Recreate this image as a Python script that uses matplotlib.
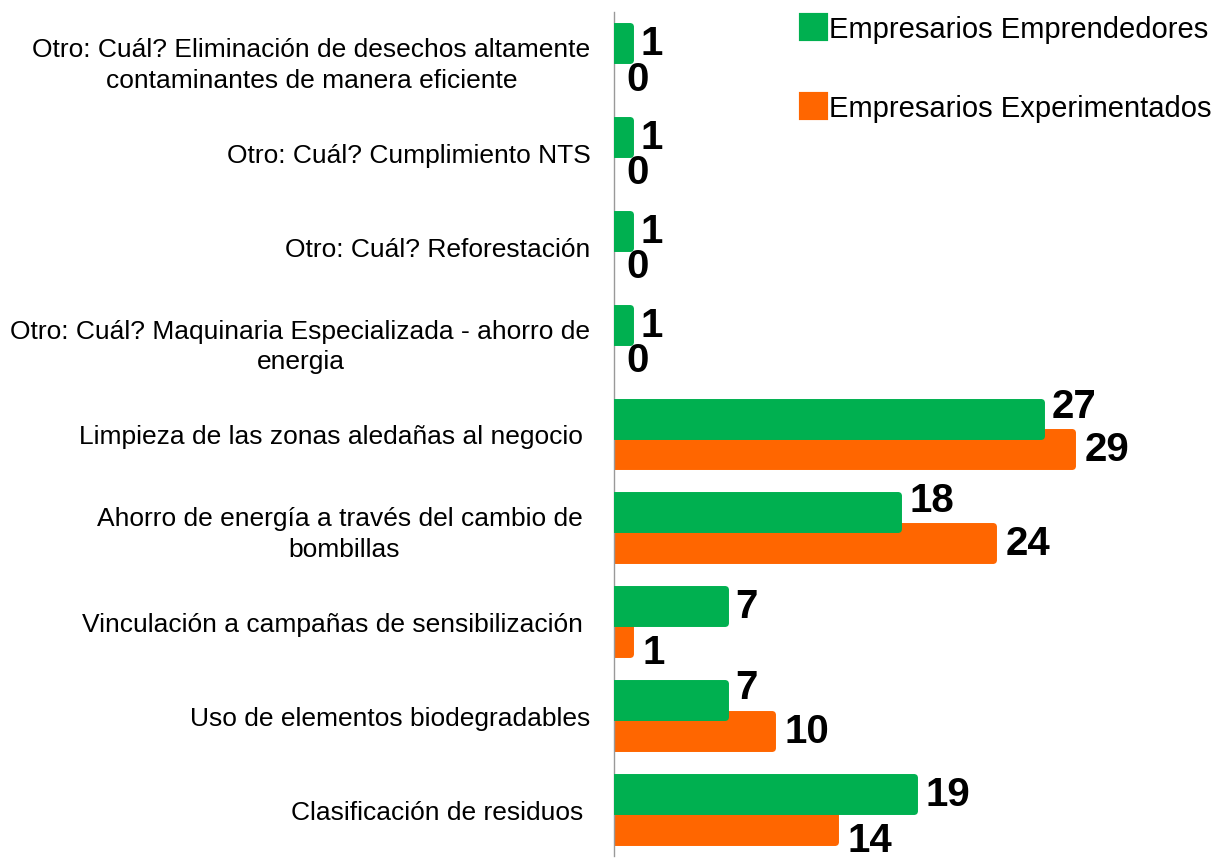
import matplotlib
matplotlib.use("Agg")
import matplotlib.pyplot as plt
from matplotlib.patches import Patch

plt.rcParams["font.family"] = ["Liberation Sans", "DejaVu Sans"]

categories = [
    "Otro: Cuál? Eliminación de desechos altamente\ncontaminantes de manera eficiente",
    "Otro: Cuál? Cumplimiento NTS",
    "Otro: Cuál? Reforestación",
    "Otro: Cuál? Maquinaria Especializada - ahorro de\nenergia",
    "Limpieza de las zonas aledañas al negocio ",
    "Ahorro de energía a través del cambio de \nbombillas",
    "Vinculación a campañas de sensibilización ",
    "Uso de elementos biodegradables",
    "Clasificación de residuos ",
]
emprendedores = [1, 1, 1, 1, 27, 18, 7, 7, 19]
experimentados = [0, 0, 0, 0, 29, 24, 1, 10, 14]
series_names = ["Empresarios Emprendedores", "Empresarios Experimentados"]

green = "#00B050"
orange = "#FF6600"

fig = plt.figure(figsize=(12.17, 8.62), dpi=100)
ax = fig.add_axes([614 / 1217, 5 / 862, 603 / 1217, 844 / 862])

pos = list(range(len(categories)))
off = 0.165
h = 0.3625

def draw(values, shift, color, z):
    ys = [p + shift for p in pos]
    lws = [5 if v > 0 else 0 for v in values]
    bars = ax.barh(ys, values, height=h, color=color, edgecolor=color,
                   linewidth=lws, zorder=z)
    for b in bars:
        b.set_joinstyle("round")
    return ys

ys_o = draw(experimentados, off, orange, 2)
ys_g = draw(emprendedores, -off, green, 3)

for i in pos:
    g = emprendedores[i]
    o = experimentados[i]
    # move labels away from the other bar when they would collide
    dy_g = 9 if o > g else 0
    if g - o > 1:
        dy_o = -11
    elif g > o:
        dy_o = -3
    else:
        dy_o = 0
    ax.annotate(str(g), (g, ys_g[i]), xytext=(8, dy_g), textcoords="offset points",
                ha="left", va="center", fontsize=29, fontweight="bold", zorder=5)
    ax.annotate(str(o), (o, ys_o[i]), xytext=(9, dy_o), textcoords="offset points",
                ha="left", va="center", fontsize=29, fontweight="bold", zorder=5,
                annotation_clip=False)

ax.set_xlim(0, 603 / 15.8)
ax.set_ylim(len(categories) - 0.5, -0.5)
ax.set_yticks(pos)
ax.set_yticklabels(categories, fontsize=19, multialignment="center", linespacing=1.35)
ax.tick_params(axis="y", length=0, pad=17)
ax.set_xticks([])
for s in ["top", "right", "bottom"]:
    ax.spines[s].set_visible(False)
ax.spines["left"].set_color("#999999")
ax.spines["left"].set_linewidth(1)

handles = [Patch(facecolor=green, edgecolor=green, linewidth=3, joinstyle="round"),
           Patch(facecolor=orange, edgecolor=orange, linewidth=3, joinstyle="round")]
fig.legend(handles, series_names, loc="upper left", bbox_to_anchor=(801 / 1217, 1 - 16 / 862),
           frameon=False, fontsize=21, handlelength=0.85, handleheight=0.85,
           handletextpad=0.1, labelspacing=1.75, borderpad=0, borderaxespad=0)

plt.savefig("out.png", dpi=100)
